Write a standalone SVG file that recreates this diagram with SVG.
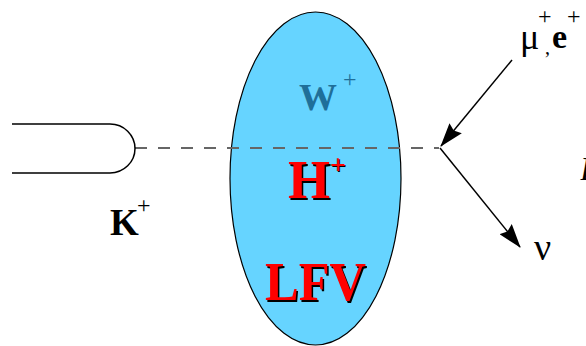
<svg xmlns="http://www.w3.org/2000/svg" width="586" height="346" viewBox="0 0 586 346">
<style>
.serif{font-family:"Liberation Serif","Times New Roman",serif}
.b{font-weight:bold}
.red{fill:#ff0000}
.shadow{fill:#000}
.line{stroke:#000;stroke-width:1.5;fill:none}
</style>
<defs>
<marker id="ah" markerUnits="userSpaceOnUse" markerWidth="24" markerHeight="16" viewBox="0 0 24 16" refX="23" refY="8" orient="auto">
<path d="M0,0 L24,8 L0,16 L3,8 Z" fill="#000"/>
</marker>
</defs>
<rect width="586" height="346" fill="#fff"/>
<g id="blob">
<ellipse cx="315.5" cy="178.5" rx="85.5" ry="166.5" fill="#66d4ff" stroke="#000" stroke-width="1.2"/>
</g>
<g id="connectors">
<line x1="135" y1="148" x2="439" y2="148" stroke="#666" stroke-width="2.2" stroke-dasharray="12 11"/>
<line class="line" x1="512" y1="60" x2="441" y2="146" marker-end="url(#ah)"/>
<line class="line" x1="440" y1="148" x2="520" y2="247" marker-end="url(#ah)"/>
</g>
<g id="kaon">
<path class="line" d="M12,124 H110 A25,24.5 0 0 1 110,173 H12"/>
<text class="serif b" x="110" y="235" font-size="37">K</text>
<text class="serif" x="137" y="213" font-size="24">+</text>
</g>
<g id="w">
<text class="serif b" x="299" y="110" font-size="38" fill="#1f6f99">W</text>
<text class="serif" x="343" y="87" font-size="24" fill="#1f6f99">+</text>
</g>
<g id="h">
<text class="serif b shadow" x="289.5" y="199.5" font-size="54">H</text>
<text class="serif b red" x="288" y="198" font-size="54">H</text>
<text class="serif b shadow" x="331" y="175" font-size="28">+</text>
<text class="serif b red" x="330" y="173.5" font-size="28">+</text>
</g>
<g id="lfv">
<text class="serif b shadow" x="266.5" y="301.5" font-size="54" textLength="101" lengthAdjust="spacingAndGlyphs">LFV</text>
<text class="serif b red" x="265" y="300" font-size="54" textLength="101" lengthAdjust="spacingAndGlyphs">LFV</text>
</g>
<g id="leptons">
<text class="serif" x="520" y="49" font-size="36">μ</text>
<text class="serif" x="538" y="24" font-size="24">+</text>
<text class="serif" x="545" y="54" font-size="20">,</text>
<text class="serif b" x="552" y="48" font-size="34">e</text>
<text class="serif" x="567" y="24" font-size="24">+</text>
</g>
<g id="nu">
<text class="serif" x="534" y="260" font-size="38">ν</text>
</g>
<g id="edge">
<text class="serif" x="580" y="180" font-size="34" font-style="italic">B</text>
</g>
</svg>
